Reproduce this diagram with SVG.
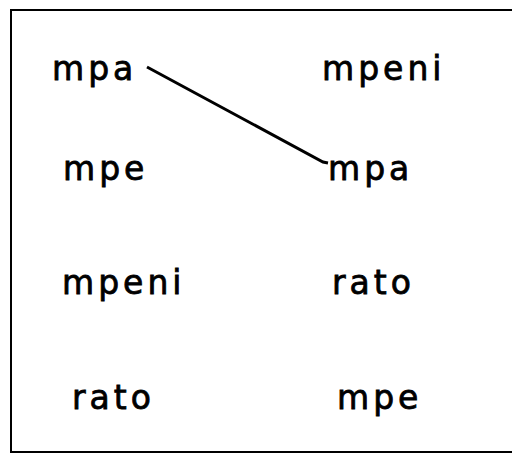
<svg xmlns="http://www.w3.org/2000/svg" width="512" height="454" viewBox="0 0 512 454">
<style>
text{font-family:"DejaVu Sans",sans-serif;font-size:33px;letter-spacing:4px;fill:#000;stroke:#000;stroke-width:0.8}
.frame{fill:none;stroke:#000;stroke-width:2}
.conn{fill:none;stroke:#000;stroke-width:3}
</style>
<rect width="512" height="454" fill="#fff"/>
<path class="frame" d="M512,10 H11 V452 H512"/>
<g id="l1"><text x="52" y="80">mpa</text></g>
<g id="l2"><text x="63" y="180">mpe</text></g>
<g id="l3"><text x="62" y="294">mpeni</text></g>
<g id="l4"><text x="72" y="409">rato</text></g>
<g id="r1"><text x="322" y="80">mpeni</text></g>
<g id="r2"><text x="328" y="180">mpa</text></g>
<g id="r3"><text x="332" y="294">rato</text></g>
<g id="r4"><text x="337" y="409">mpe</text></g>
<g id="connectors"><path class="conn" d="M147,67 L323,162 L328,163"/></g>
</svg>
